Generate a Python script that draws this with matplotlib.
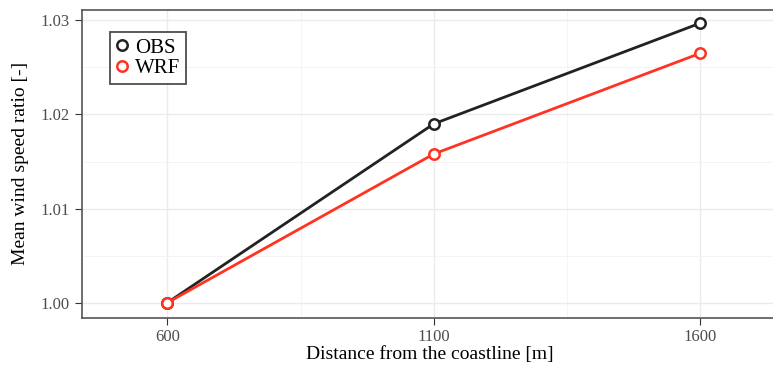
import matplotlib.pyplot as plt
from matplotlib.ticker import FixedLocator

plt.rcParams['font.family'] = ['Liberation Serif', 'DejaVu Serif']

distance = [600, 1100, 1600]
obs = [1.000, 1.0190, 1.0297]
wrf = [1.000, 1.0158, 1.0265]
xticks = [600, 1100, 1600]
yticks = [1.00, 1.01, 1.02, 1.03]

fig = plt.figure(figsize=(7.73, 3.67), dpi=100)
ax = fig.add_axes([0.106, 0.134, 0.9, 0.839])

ax.plot(distance, obs, '-', color='#222222', lw=2, marker='o', ms=7.5,
        mfc='white', mec='#222222', mew=1.8, label='OBS', zorder=3)
ax.plot(distance, wrf, '-', color='#ff3322', lw=2, marker='o', ms=7.5,
        mfc='white', mec='#ff3322', mew=1.8, label='WRF', zorder=3)

ax.set_xlim(440, 1745)
ax.set_ylim(0.9984, 1.0311)
ax.set_xticks(xticks)
ax.set_xticklabels([str(v) for v in xticks])
ax.set_yticks(yticks)
ax.set_yticklabels(['%.2f' % v for v in yticks])
# minor grid halfway between the major ticks
ax.xaxis.set_minor_locator(FixedLocator([850, 1350]))
ax.yaxis.set_minor_locator(FixedLocator([1.005, 1.015, 1.025]))

ax.grid(True, which='major', color='#ebebeb', lw=1)
ax.grid(True, which='minor', color='#f3f3f3', lw=0.6)
ax.set_axisbelow(True)
ax.tick_params(which='minor', length=0)
ax.tick_params(which='major', length=5, color='#333333', labelcolor='#4d4d4d',
               labelsize=12)
ax.tick_params(axis='x', pad=3)
ax.tick_params(axis='y', pad=4)
for s in ax.spines.values():
    s.set_color('#555555')
    s.set_linewidth(1.2)

ax.set_xlabel('Distance from the coastline [m]', fontsize=14, labelpad=1)
ax.set_ylabel('Mean wind speed ratio [-]', fontsize=14, labelpad=8)

leg = ax.legend(loc='upper left', bbox_to_anchor=(0.04, 0.929), fontsize=15,
                frameon=True, fancybox=False, handlelength=0.6,
                handletextpad=0.3, borderpad=0.3, labelspacing=0.05,
                borderaxespad=0)
leg.get_frame().set_edgecolor('#222222')
leg.get_frame().set_linewidth(1.3)
for h in leg.legend_handles:
    h.set_linestyle('none')

fig.savefig('out.png', dpi=100)
